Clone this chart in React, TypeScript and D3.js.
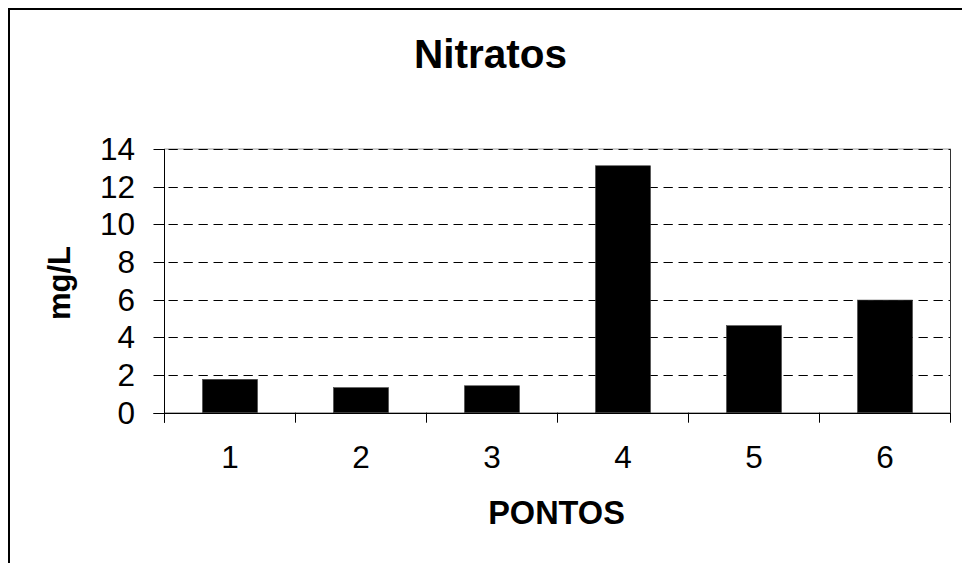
import React from "react";
import * as d3 from "d3";

const categories: string[] = ["1", "2", "3", "4", "5", "6"];
const values: number[] = [1.77, 1.33, 1.43, 13.11, 4.62, 5.98];
const yTicks: number[] = [0, 2, 4, 6, 8, 10, 12, 14];
const title = "Nitratos";
const yLabel = "mg/L";
const xLabel = "PONTOS";

const W = 962;
const H = 563;
const plotLeft = 164.5;
const plotRight = 950.5;
const plotTop = 149;
const plotBottom = 412.7;
const FONT = "'Liberation Sans', Arial, sans-serif";

export default function App() {
  const x = d3
    .scaleBand<string>()
    .domain(categories)
    .range([plotLeft, plotRight])
    .paddingInner(0.58)
    .paddingOuter(0.29);
  const band = d3.scaleBand<string>().domain(categories).range([plotLeft, plotRight]);
  const y = d3.scaleLinear().domain([0, 14]).range([plotBottom, plotTop]);
  const boundaries = d3.range(categories.length + 1).map((i) => plotLeft + i * band.step());

  return (
    <svg
      width={W}
      height={H}
      style={{ position: "absolute", left: 0, top: 0, background: "#fff" }}
      fontFamily={FONT}
    >
      <rect x={0} y={0} width={W} height={H} fill="#fff" />
      {/* outer chart border (extends beyond viewport) */}
      <rect x={9} y={9} width={W + 40} height={H + 40} fill="none" stroke="#000" strokeWidth={2} />

      {/* plot area border */}
      <rect
        x={plotLeft}
        y={plotTop}
        width={plotRight - plotLeft}
        height={plotBottom - plotTop}
        fill="none"
        stroke="#9a9a9a"
        strokeWidth={1}
      />

      {/* gridlines */}
      {yTicks
        .filter((t) => t !== 0)
        .map((t) => (
          <line
            key={"g" + t}
            x1={plotLeft}
            x2={plotRight}
            y1={Math.round(y(t)) + 0.5}
            y2={Math.round(y(t)) + 0.5}
            stroke="#000"
            strokeWidth={1}
            strokeDasharray="9.3,5.7"
            strokeDashoffset={11}
          />
        ))}

      {/* right plot edge */}
      <line x1={plotRight} x2={plotRight} y1={plotTop} y2={plotBottom} stroke="#333" strokeWidth={1} />

      {/* bars */}
      {values.map((v, i) => (
        <rect
          key={"b" + i}
          x={x(categories[i])!}
          y={y(v)}
          width={x.bandwidth()}
          height={plotBottom - y(v)}
          fill="#000"
          stroke="#444"
          strokeWidth={0.6}
        />
      ))}

      {/* y axis */}
      <line x1={plotLeft} x2={plotLeft} y1={plotTop} y2={plotBottom + 10} stroke="#000" strokeWidth={1} />
      {yTicks.map((t) => (
        <g key={"yt" + t}>
          <line
            x1={plotLeft - 11}
            x2={plotLeft}
            y1={Math.round(y(t)) + 0.5}
            y2={Math.round(y(t)) + 0.5}
            stroke="#000"
            strokeWidth={1}
          />
          <text x={135} y={y(t) + 11} textAnchor="end" fontSize={31.5} fill="#000">
            {t}
          </text>
        </g>
      ))}

      {/* x axis */}
      <line
        x1={plotLeft - 11}
        x2={plotRight}
        y1={Math.round(plotBottom) + 0.5}
        y2={Math.round(plotBottom) + 0.5}
        stroke="#000"
        strokeWidth={1}
      />
      {boundaries.map((bx, i) => (
        <line
          key={"xt" + i}
          x1={bx}
          x2={bx}
          y1={plotBottom}
          y2={plotBottom + 10}
          stroke="#000"
          strokeWidth={1}
        />
      ))}
      {categories.map((c) => (
        <text
          key={"xl" + c}
          x={band(c)! + band.bandwidth() / 2}
          y={468}
          textAnchor="middle"
          fontSize={31.5}
          fill="#000"
        >
          {c}
        </text>
      ))}

      {/* titles */}
      <text x={490.5} y={68.3} textAnchor="middle" fontSize={40.5} fontWeight="bold" fill="#000">
        {title}
      </text>
      <text
        transform={`translate(70,283) rotate(-90)`}
        textAnchor="middle"
        fontSize={31}
        fontWeight="bold"
        fill="#000"
      >
        {yLabel}
      </text>
      <text x={556.5} y={524} textAnchor="middle" fontSize={32.5} fontWeight="bold" fill="#000">
        {xLabel}
      </text>
    </svg>
  );
}
